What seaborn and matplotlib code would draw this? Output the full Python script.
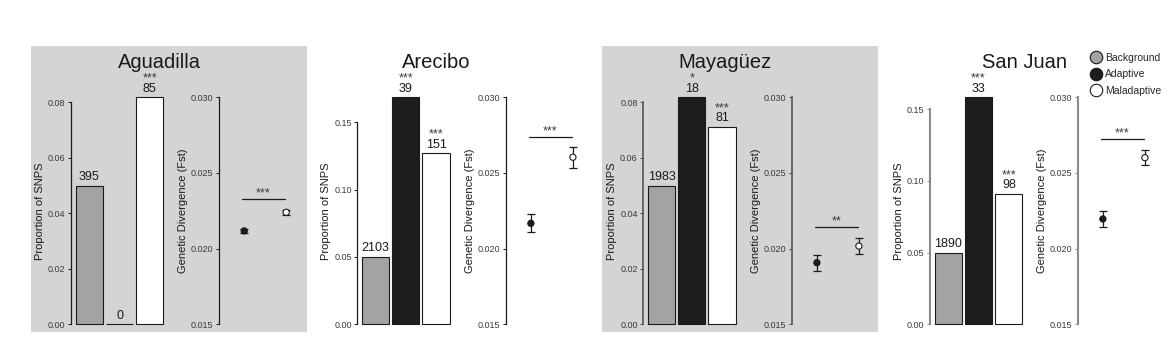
import matplotlib
matplotlib.use("Agg")
import matplotlib.pyplot as plt
from matplotlib.patches import Rectangle
from matplotlib.lines import Line2D
import seaborn as sns

# ---- data ---------------------------------------------------------------
sites = ["Aguadilla", "Arecibo", "Mayagüez", "San Juan"]
snp_classes = ["Background", "Adaptive", "Maladaptive"]
fst_classes = ["Background", "Maladaptive"]

# proportion of SNPs in each class
prop_aguadilla = [0.050, 0.000, 0.0818]
prop_arecibo = [0.050, 0.1686, 0.127]
prop_mayaguez = [0.050, 0.0818, 0.071]
prop_sanjuan = [0.050, 0.1583, 0.0912]

# number of SNPs in each class
count_aguadilla = [395, 0, 85]
count_arecibo = [2103, 39, 151]
count_mayaguez = [1983, 18, 81]
count_sanjuan = [1890, 33, 98]

# significance of the enrichment test
stars_aguadilla = ["", "", "***"]
stars_arecibo = ["", "***", "***"]
stars_mayaguez = ["", "*", "***"]
stars_sanjuan = ["", "***", "***"]

# mean Fst (background, maladaptive) with standard errors
fst_aguadilla = [0.02117, 0.02240]
fst_se_aguadilla = [0.00015, 0.00015]
fst_arecibo = [0.02167, 0.02604]
fst_se_arecibo = [0.00060, 0.00070]
fst_mayaguez = [0.01907, 0.02017]
fst_se_mayaguez = [0.00053, 0.00050]
fst_sanjuan = [0.02196, 0.02601]
fst_se_sanjuan = [0.00052, 0.00050]

# Fst comparison: significance label and bracket height
fst_sig_label = ["***", "***", "**", "***"]
fst_sig_level = [0.02326, 0.02736, 0.02141, 0.02722]

# axis ticks
prop_ticks_small = [0.00, 0.02, 0.04, 0.06, 0.08]
prop_ticks_large = [0.00, 0.05, 0.10, 0.15]
fst_ticks = [0.015, 0.020, 0.025, 0.030]

props = [prop_aguadilla, prop_arecibo, prop_mayaguez, prop_sanjuan]
counts = [count_aguadilla, count_arecibo, count_mayaguez, count_sanjuan]
stars = [stars_aguadilla, stars_arecibo, stars_mayaguez, stars_sanjuan]
fsts = [fst_aguadilla, fst_arecibo, fst_mayaguez, fst_sanjuan]
fst_ses = [fst_se_aguadilla, fst_se_arecibo, fst_se_mayaguez, fst_se_sanjuan]
prop_ticks = [prop_ticks_small, prop_ticks_large, prop_ticks_small, prop_ticks_large]

# ---- style --------------------------------------------------------------
sns.set_style("ticks")
plt.rcParams["font.family"] = ["Liberation Sans", "DejaVu Sans"]

palette = {"Background": "#a3a3a3", "Adaptive": "#1d1d1b", "Maladaptive": "#ffffff"}
point_palette = {"Background": "#1d1d1b", "Maladaptive": "#ffffff"}
shaded = [True, False, True, False]
spine_colors = ["#1a1a1a", "#1a1a1a", "#4a4a4a", "#8a8a8a"]
spine_widths = [0.9, 0.9, 1.1, 1.5]

W, H = 1170, 341
fig = plt.figure(figsize=(W / 100, H / 100), dpi=100)

bar_left = [71, 357.3, 643.3, 930]
fst_left = [219, 505.7, 791.7, 1077.7]
title_x = [159, 436.7, 725, 1024.7]
shade_left = [31, None, 602, None]
bottom_px, top_px = 324.3, 97.3
bar_w_px, fst_w_px = 94, 92.4


def frac_box(left, width):
    return [left / W, (H - bottom_px) / H, width / W, (bottom_px - top_px) / H]


def style_axis(ax, color, lw):
    for side in ("top", "right", "bottom"):
        ax.spines[side].set_visible(False)
    ax.spines["left"].set_color(color)
    ax.spines["left"].set_linewidth(lw)
    ax.set_facecolor("none")
    ax.tick_params(axis="y", length=2.5, width=0.7, color=color,
                   labelsize=6.5, labelcolor="#3a3a3a", pad=1.5)
    ax.tick_params(axis="x", bottom=False, labelbottom=False)
    ax.set_xlabel("")


for i, site in enumerate(sites):
    if shaded[i]:
        fig.add_artist(Rectangle((shade_left[i] / W, (H - 332) / H), 276 / W, 286 / H,
                                 transform=fig.transFigure, facecolor="#d4d4d4",
                                 edgecolor="none", zorder=0))

    fig.text(title_x[i] / W, 1 - 62.7 / H, site, ha="center", va="center",
             fontsize=14.5, color="#1a1a1a")

    # proportion of SNPs per class
    ax = fig.add_axes(frac_box(bar_left[i], bar_w_px))
    sns.barplot(x=snp_classes, y=props[i], hue=snp_classes, order=snp_classes,
                palette=palette, legend=False, width=0.9, edgecolor="#1a1a1a",
                linewidth=0.8, ax=ax)
    for p in ax.patches:
        p.set_clip_on(False)
    ax.set_xlim(-0.6, 2.5)
    ax.set_ylim(0, max(props[i]))
    ticks = prop_ticks[i]
    ax.set_yticks(ticks)
    ax.set_yticklabels([f"{t:.2f}" for t in ticks])
    ax.spines["left"].set_bounds(ticks[0], ticks[-1])
    style_axis(ax, spine_colors[i], spine_widths[i])
    ax.set_ylabel("Proportion of SNPS", fontsize=8, color="#1a1a1a", labelpad=2)
    for j, (v, n, s) in enumerate(zip(props[i], counts[i], stars[i])):
        ax.annotate(str(n), (j, v), xytext=(0, 2), textcoords="offset points",
                    ha="center", va="bottom", fontsize=9, color="#1a1a1a",
                    annotation_clip=False)
        if s:
            ax.annotate(s, (j, v), xytext=(0, 9), textcoords="offset points",
                        ha="center", va="bottom", fontsize=9, color="#3a3a3a",
                        annotation_clip=False)

    # genetic divergence of background vs maladaptive SNPs
    ax2 = fig.add_axes(frac_box(fst_left[i], fst_w_px))
    ax2.errorbar([0, 1], fsts[i], yerr=fst_ses[i], fmt="none", ecolor="#1a1a1a",
                 elinewidth=0.9, capsize=3, capthick=0.9, zorder=2)
    sns.scatterplot(x=[0, 1], y=fsts[i], hue=fst_classes, palette=point_palette,
                    legend=False, s=20, edgecolor="#1a1a1a", linewidth=0.8,
                    zorder=3, ax=ax2)
    ax2.plot([-0.05, 0.97], [fst_sig_level[i]] * 2, color="#1a1a1a", lw=0.9)
    ax2.annotate(fst_sig_label[i], (0.46, fst_sig_level[i]), xytext=(0, 0),
                 textcoords="offset points", ha="center", va="bottom",
                 fontsize=9, color="#3a3a3a")
    ax2.set_xlim(-0.6, 1.6)
    ax2.set_ylim(fst_ticks[0], fst_ticks[-1])
    ax2.set_yticks(fst_ticks)
    ax2.set_yticklabels([f"{t:.3f}" for t in fst_ticks])
    style_axis(ax2, spine_colors[i], spine_widths[i])
    ax2.set_ylabel("Genetic Divergence (Fst)", fontsize=8, color="#1a1a1a", labelpad=2)

handles = [Line2D([], [], ls="none", marker="o", markersize=9,
                  markerfacecolor=palette[c], markeredgecolor="#1a1a1a",
                  markeredgewidth=0.8, label=c) for c in snp_classes]
fig.legend(handles=handles, loc="upper left", bbox_to_anchor=(1091 / W, 1 - 53 / H),
           frameon=False, fontsize=7.5, handlelength=1.0, handletextpad=0.35,
           labelspacing=0.62, borderpad=0, borderaxespad=0)

fig.savefig("out.png", dpi=100, facecolor="white")
